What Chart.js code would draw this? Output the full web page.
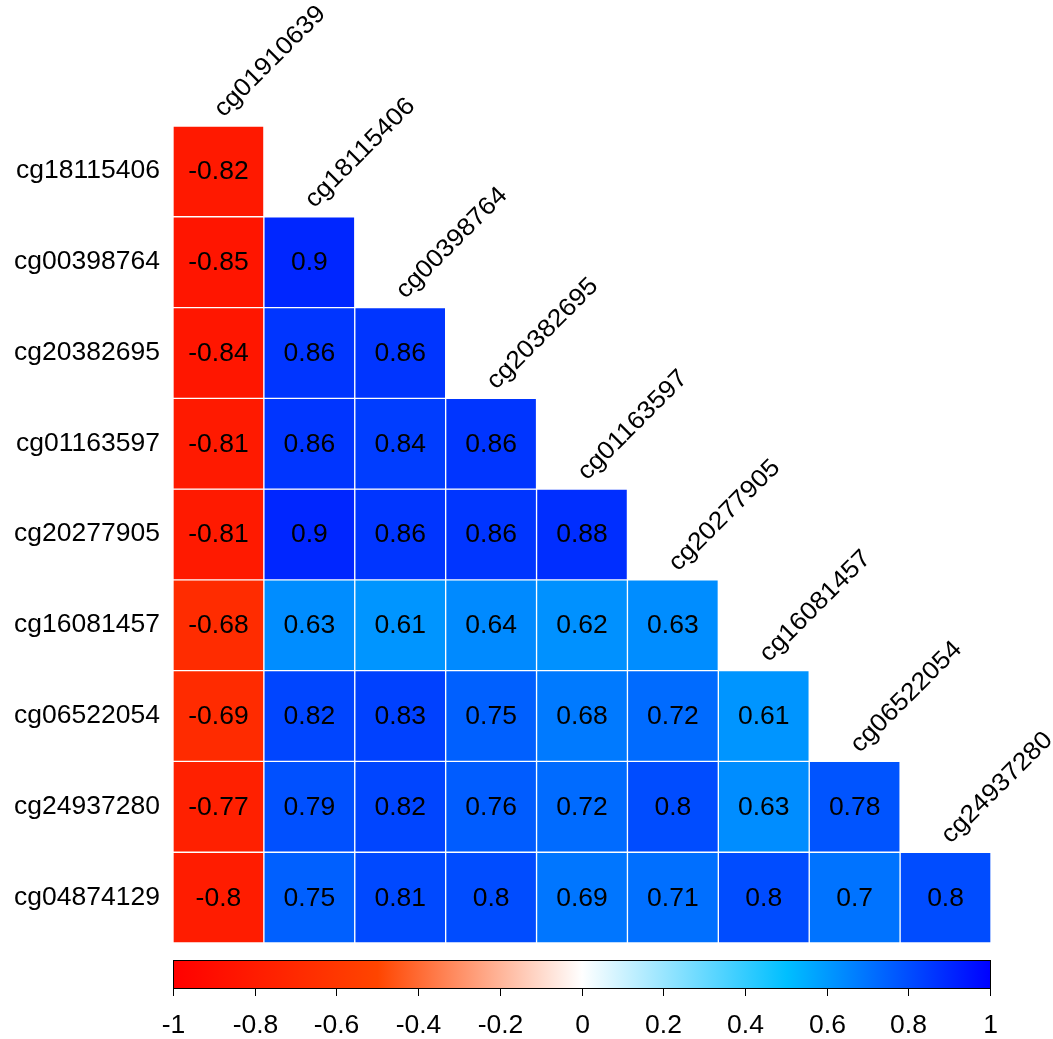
<!DOCTYPE html>
<html>
<head>
<meta charset="utf-8">
<script src="https://cdn.jsdelivr.net/npm/chart.js@4/dist/chart.umd.min.js"></script>
<style>
  html, body { margin: 0; padding: 0; background: #fff; }
  #wrap { width: 1053px; height: 1039px; }
</style>
</head>
<body>
<div id="wrap"><canvas id="corrChart"></canvas></div>
<script>
// Row / column names of the lower triangle
const rowLabels = ['cg18115406', 'cg00398764', 'cg20382695', 'cg01163597', 'cg20277905', 'cg16081457', 'cg06522054', 'cg24937280', 'cg04874129'];
const colLabels = ['cg01910639', 'cg18115406', 'cg00398764', 'cg20382695', 'cg01163597', 'cg20277905', 'cg16081457', 'cg06522054', 'cg24937280'];

// Correlation values, one row each
const rowCg18115406 = [-0.82];
const rowCg00398764 = [-0.85, 0.9];
const rowCg20382695 = [-0.84, 0.86, 0.86];
const rowCg01163597 = [-0.81, 0.86, 0.84, 0.86];
const rowCg20277905 = [-0.81, 0.9, 0.86, 0.86, 0.88];
const rowCg16081457 = [-0.68, 0.63, 0.61, 0.64, 0.62, 0.63];
const rowCg06522054 = [-0.69, 0.82, 0.83, 0.75, 0.68, 0.72, 0.61];
const rowCg24937280 = [-0.77, 0.79, 0.82, 0.76, 0.72, 0.8, 0.63, 0.78];
const rowCg04874129 = [-0.8, 0.75, 0.81, 0.8, 0.69, 0.71, 0.8, 0.7, 0.8];

// Color legend ticks
const legendTicks = [-1, -0.8, -0.6, -0.4, -0.2, 0, 0.2, 0.4, 0.6, 0.8, 1];

const corr = [rowCg18115406, rowCg00398764, rowCg20382695, rowCg01163597, rowCg20277905,
              rowCg16081457, rowCg06522054, rowCg24937280, rowCg04874129];

// red -> orangered -> white -> deepskyblue -> blue
const colorStops = [
    [-1, [255, 0, 0]],
    [-0.5, [255, 69, 0]],
    [0, [255, 255, 255]],
    [0.5, [0, 191, 255]],
    [1, [0, 0, 255]]
];

function corrColor(v) {
    for (let k = 0; k < colorStops.length - 1; k++) {
        const [a, ca] = colorStops[k];
        const [b, cb] = colorStops[k + 1];
        if (v >= a && v <= b) {
            const t = (v - a) / (b - a);
            const c = ca.map((x, i) => Math.round(x + (cb[i] - x) * t));
            return `rgb(${c[0]}, ${c[1]}, ${c[2]})`;
        }
    }
    return '#fff';
}

const FONT = '25px "Liberation Sans", Arial, sans-serif';

// text in the original is a little wider than Arial; stretch it a bit
function wideText(ctx, txt, x, y) {
    ctx.save();
    ctx.translate(x, y);
    ctx.scale(1.06, 1);
    ctx.fillText(txt, 0, 0);
    ctx.restore();
}

// one floating-bar dataset per row; each bar spans [row, row + 1]
const datasets = corr.map((vals, i) => ({
    label: rowLabels[i],
    data: colLabels.map((c, j) => j < vals.length ? [i, i + 1] : null),
    backgroundColor: vals.map(v => corrColor(v)),
    borderColor: '#ffffff',
    borderWidth: 1,
    borderSkipped: false,
    barPercentage: 1,
    categoryPercentage: 1
}));

const textPlugin = {
    id: 'corrText',
    afterDatasetsDraw(chart) {
        const ctx = chart.ctx;
        const xs = chart.scales.x;
        const ys = chart.scales.y;
        const area = chart.chartArea;
        ctx.save();
        ctx.font = FONT;
        ctx.fillStyle = '#000';

        // cell values
        ctx.textAlign = 'center';
        ctx.textBaseline = 'middle';
        corr.forEach((vals, i) => {
            vals.forEach((v, j) => {
                wideText(ctx, String(v), xs.getPixelForValue(j), ys.getPixelForValue(i + 0.5) + 1);
            });
        });

        // row labels
        ctx.textAlign = 'right';
        rowLabels.forEach((lab, i) => {
            wideText(ctx, lab, area.left - 13, ys.getPixelForValue(i + 0.5));
        });

        // column labels, rotated above the diagonal
        ctx.textAlign = 'left';
        ctx.textBaseline = 'alphabetic';
        colLabels.forEach((lab, j) => {
            ctx.save();
            ctx.translate(xs.getPixelForValue(j) + 5, ys.getPixelForValue(j) - 8);
            ctx.rotate(-Math.PI / 4);
            ctx.scale(1.06, 1);
            ctx.fillText(lab, 0, 0);
            ctx.restore();
        });

        // color legend
        const top = area.bottom + 17;
        const bot = area.bottom + 45;
        const grad = ctx.createLinearGradient(area.left, 0, area.right, 0);
        colorStops.forEach(([v, c]) => {
            grad.addColorStop((v + 1) / 2, `rgb(${c[0]}, ${c[1]}, ${c[2]})`);
        });
        ctx.fillStyle = grad;
        ctx.fillRect(area.left, top, area.right - area.left, bot - top);
        ctx.strokeStyle = '#000';
        ctx.lineWidth = 1;
        ctx.strokeRect(area.left + 0.5, top + 0.5, area.right - area.left - 1, bot - top);

        ctx.fillStyle = '#000';
        ctx.textAlign = 'center';
        ctx.textBaseline = 'middle';
        legendTicks.forEach(t => {
            const px = Math.round(area.left + (t + 1) / 2 * (area.right - area.left - 1)) + 0.5;
            ctx.beginPath();
            ctx.moveTo(px, bot);
            ctx.lineTo(px, bot + 8);
            ctx.stroke();
            wideText(ctx, String(t), px, bot + 38);
        });
        ctx.restore();
    }
};

new Chart(document.getElementById('corrChart'), {
    type: 'bar',
    data: {
        labels: colLabels,
        datasets: datasets
    },
    options: {
        responsive: true,
        maintainAspectRatio: false,
        animation: false,
        layout: {
            padding: { left: 173, top: 126, right: 62, bottom: 96 }
        },
        plugins: {
            legend: { display: false },
            tooltip: { enabled: false }
        },
        scales: {
            x: { stacked: true, display: false },
            y: { stacked: false, display: false, min: 0, max: 9, reverse: true }
        }
    },
    plugins: [textPlugin]
});
</script>
</body>
</html>
